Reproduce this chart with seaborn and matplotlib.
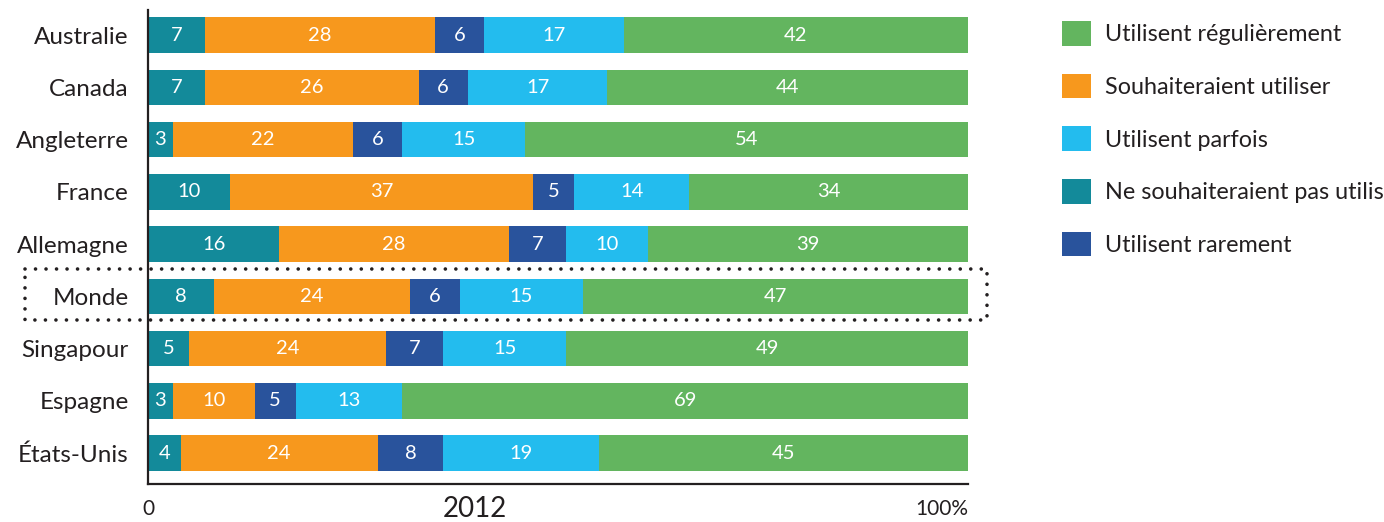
import matplotlib
matplotlib.use("Agg")
import matplotlib.pyplot as plt
import matplotlib.transforms as transforms
from matplotlib.patches import Patch
import numpy as np
import pandas as pd
import seaborn as sns

categories = ["Australie", "Canada", "Angleterre", "France", "Allemagne",
              "Monde", "Singapour", "Espagne", "États-Unis"]
ne_souhaiteraient = [7, 7, 3, 10, 16, 8, 5, 3, 4]
souhaiteraient = [28, 26, 22, 37, 28, 24, 24, 10, 24]
rarement = [6, 6, 6, 5, 7, 6, 7, 5, 8]
parfois = [17, 17, 15, 14, 10, 15, 15, 13, 19]
regulierement = [42, 44, 54, 34, 39, 47, 49, 69, 45]

series_names = ["Ne souhaiteraient pas utiliser", "Souhaiteraient utiliser",
                "Utilisent rarement", "Utilisent parfois", "Utilisent régulièrement"]
legend_order = ["Utilisent régulièrement", "Souhaiteraient utiliser", "Utilisent parfois",
                "Ne souhaiteraient pas utiliser", "Utilisent rarement"]
colors = {"Ne souhaiteraient pas utiliser": "#138A9A",
          "Souhaiteraient utiliser": "#F7981D",
          "Utilisent rarement": "#29539C",
          "Utilisent parfois": "#23BCEE",
          "Utilisent régulièrement": "#63B55F"}
x_ticks = [0, 100]
x_ticklabels = ["0", "100%"]
year_label = "2012"
highlight = "Monde"

df = pd.DataFrame({"pays": categories,
                   series_names[0]: ne_souhaiteraient,
                   series_names[1]: souhaiteraient,
                   series_names[2]: rarement,
                   series_names[3]: parfois,
                   series_names[4]: regulierement})
cum = df[series_names].cumsum(axis=1)

sns.set_style("white")
plt.rcParams["font.family"] = ["Lato", "DejaVu Sans"]
txt = "#231F20"

fig = plt.figure(figsize=(13.84, 5.22), dpi=100)
ax = fig.add_axes([148 / 1384, 1 - 484 / 522, 820 / 1384, 474 / 522])

# stacked bars: draw cumulative totals from the longest to the shortest
for name in reversed(series_names):
    sns.barplot(x=cum[name], y=df["pays"], orient="h", color=colors[name],
                saturation=1, width=0.68, linewidth=0, ax=ax)

# value labels in the middle of each segment
for i in range(len(categories)):
    start = 0
    for name in series_names:
        v = df[name].iloc[i]
        ax.text(start + v / 2, i, str(v), ha="center", va="center",
                color="white", fontsize=14.5)
        start += v

ax.set_xlim(0, 100)
ax.set_ylim(8.59, -0.48)
ax.set_xlabel("")
ax.set_ylabel("")
ax.set_xticks(x_ticks)
ax.set_xticklabels(x_ticklabels, fontsize=15, color=txt)
ax.get_xticklabels()[-1].set_ha("right")
ax.tick_params(axis="x", length=0, pad=11)
ax.tick_params(axis="y", length=0, pad=14, labelsize=17.5, labelcolor=txt)
ax.text(0.399, -0.052, year_label, transform=ax.transAxes, ha="center", va="center",
        fontsize=20, color=txt)

sns.despine(ax=ax)
for s in ["left", "bottom"]:
    ax.spines[s].set_color(txt)
    ax.spines[s].set_linewidth(1.6)

# dotted box around the world average
k = categories.index(highlight)
trans = transforms.blended_transform_factory(ax.transAxes, ax.transData)
x0, x1 = -0.15, 1.0232
y0, y1 = k - 0.517, k + 0.46
ax.plot([x0, x1, x1, x0, x0], [y0, y0, y1, y1, y0], transform=trans,
        color=txt, lw=2.6, linestyle=(0, (0.01, 2.9)),
        dash_capstyle="round", clip_on=False)

handles = [Patch(facecolor=colors[n], edgecolor="none", label=n) for n in legend_order]
fig.legend(handles=handles, loc="upper left", bbox_to_anchor=(1062 / 1384, 1 - 21 / 522),
           frameon=False, fontsize=16.8, handlelength=1.25, handleheight=1.25,
           handletextpad=0.6, labelspacing=1.2, borderpad=0, borderaxespad=0,
           labelcolor=txt)

fig.savefig("out.png", dpi=100)
